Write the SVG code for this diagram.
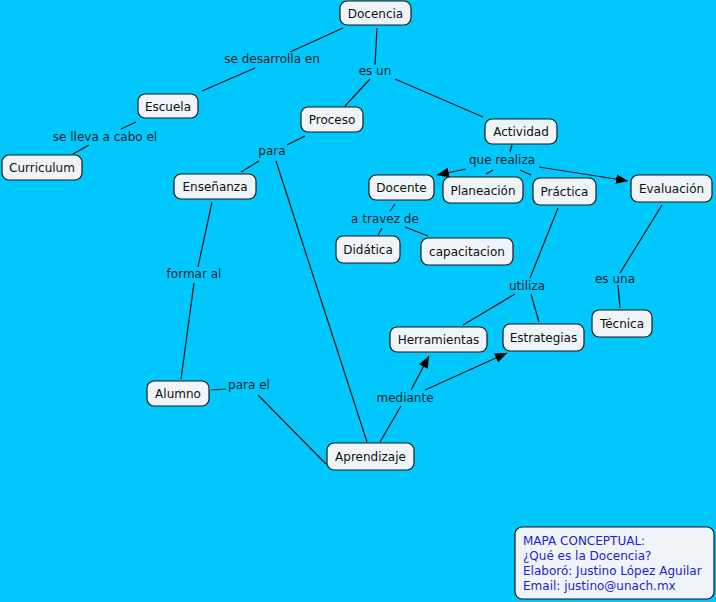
<svg xmlns="http://www.w3.org/2000/svg" width="716" height="602" viewBox="0 0 716 602">
<style>
.n rect{fill:#eef4f7;stroke:#1a1a1a;stroke-width:1.2}
.n text{font-family:"DejaVu Sans",Verdana,sans-serif;font-size:12px;fill:#111;text-anchor:middle}
.l{font-family:"DejaVu Sans",Verdana,sans-serif;font-size:12px;fill:#0d1f2d;text-anchor:middle}
#c line{stroke:#111;stroke-width:1.2}
.info{font-family:"DejaVu Sans",Verdana,sans-serif;font-size:12px;fill:#1e1ed2}
</style>
<defs>
<marker id="a" viewBox="0 0 12 10" refX="12" refY="5" markerWidth="12" markerHeight="10" markerUnits="userSpaceOnUse" orient="auto">
<path d="M0,0 L12,5 L0,10 Z" fill="#000"/>
</marker>
</defs>
<rect width="716" height="602" fill="#00c8fc"/>
<g id="c">
<line x1="343" y1="28" x2="290" y2="52"/>
<line x1="255" y1="68" x2="202" y2="91"/>
<line x1="136" y1="122" x2="121" y2="129"/>
<line x1="89" y1="145" x2="73" y2="154"/>
<line x1="377" y1="28" x2="375" y2="65"/>
<line x1="370" y1="79" x2="345" y2="106"/>
<line x1="395" y1="79" x2="483" y2="117"/>
<line x1="305" y1="136" x2="287" y2="145"/>
<line x1="259" y1="161" x2="241" y2="172"/>
<line x1="276" y1="161" x2="367" y2="442"/>
<line x1="212" y1="202" x2="198" y2="267"/>
<line x1="194" y1="283" x2="181" y2="379"/>
<line x1="211" y1="390" x2="226" y2="389"/>
<line x1="258" y1="395" x2="326" y2="464"/>
<line x1="380" y1="442" x2="401" y2="406"/>
<line x1="411" y1="390" x2="429" y2="356" marker-end="url(#a)"/>
<line x1="425" y1="390" x2="507" y2="353" marker-end="url(#a)"/>
<line x1="512" y1="145" x2="510" y2="152"/>
<line x1="466" y1="169" x2="437" y2="175" marker-end="url(#a)"/>
<line x1="493" y1="170" x2="486" y2="174"/>
<line x1="520" y1="170" x2="531" y2="175"/>
<line x1="539" y1="167" x2="628" y2="181" marker-end="url(#a)"/>
<line x1="395" y1="204" x2="390" y2="211"/>
<line x1="382" y1="228" x2="378" y2="235"/>
<line x1="405" y1="227" x2="428" y2="236"/>
<line x1="558" y1="208" x2="530" y2="278"/>
<line x1="515" y1="294" x2="463" y2="325"/>
<line x1="531" y1="294" x2="539" y2="322"/>
<line x1="662" y1="205" x2="620" y2="273"/>
<line x1="618" y1="285" x2="620" y2="308"/>
</g>
<g id="labels">
<text class="l" x="272" y="63">se desarrolla en</text>
<text class="l" x="105" y="141">se lleva a cabo el</text>
<text class="l" x="375" y="75">es un</text>
<text class="l" x="272" y="155">para</text>
<text class="l" x="502" y="164">que realiza</text>
<text class="l" x="385" y="223">a travez de</text>
<text class="l" x="194" y="278">formar al</text>
<text class="l" x="249" y="389">para el</text>
<text class="l" x="405" y="402">mediante</text>
<text class="l" x="527" y="290">utiliza</text>
<text class="l" x="615" y="283">es una</text>
</g>
<g id="docencia" class="n"><rect x="340" y="1" width="71" height="24" rx="7"/><text x="375.5" y="17.5">Docencia</text></g>
<g id="escuela" class="n"><rect x="138" y="94" width="60" height="24" rx="7"/><text x="168" y="110.5">Escuela</text></g>
<g id="curriculum" class="n"><rect x="2" y="155" width="80" height="25" rx="7"/><text x="42" y="172">Curriculum</text></g>
<g id="proceso" class="n"><rect x="301" y="107" width="62" height="25" rx="7"/><text x="332" y="124">Proceso</text></g>
<g id="ensenanza" class="n"><rect x="174" y="174" width="82" height="25" rx="7"/><text x="215" y="191">Enseñanza</text></g>
<g id="actividad" class="n"><rect x="485" y="119" width="72" height="25" rx="7"/><text x="521" y="136">Actividad</text></g>
<g id="docente" class="n"><rect x="369" y="175" width="65" height="25" rx="7"/><text x="401.5" y="192">Docente</text></g>
<g id="planeacion" class="n"><rect x="443" y="177" width="80" height="26" rx="7"/><text x="483" y="194.5">Planeación</text></g>
<g id="practica" class="n"><rect x="533" y="178" width="63" height="27" rx="7"/><text x="564.5" y="196">Práctica</text></g>
<g id="evaluacion" class="n"><rect x="631" y="175" width="81" height="27" rx="7"/><text x="671.5" y="193">Evaluación</text></g>
<g id="didatica" class="n"><rect x="336" y="236" width="64" height="27" rx="7"/><text x="368" y="254">Didática</text></g>
<g id="capacitacion" class="n"><rect x="421" y="238" width="92" height="27" rx="7"/><text x="467" y="256">capacitacion</text></g>
<g id="tecnica" class="n"><rect x="592" y="310" width="60" height="27" rx="7"/><text x="622" y="328">Técnica</text></g>
<g id="estrategias" class="n"><rect x="503" y="324" width="81" height="27" rx="7"/><text x="543.5" y="342">Estrategias</text></g>
<g id="herramientas" class="n"><rect x="390" y="327" width="97" height="25" rx="7"/><text x="438.5" y="344">Herramientas</text></g>
<g id="alumno" class="n"><rect x="147" y="381" width="62" height="25" rx="7"/><text x="178" y="398">Alumno</text></g>
<g id="aprendizaje" class="n"><rect x="327" y="443" width="87" height="27" rx="7"/><text x="370.5" y="461">Aprendizaje</text></g>
<g id="info" class="n"><rect x="515" y="527" width="199" height="72" rx="7"/>
<text class="info" x="523" y="545" style="text-anchor:start;fill:#1e1ed2">MAPA CONCEPTUAL:</text>
<text class="info" x="523" y="560" style="text-anchor:start;fill:#1e1ed2">¿Qué es la Docencia?</text>
<text class="info" x="523" y="575" style="text-anchor:start;fill:#1e1ed2">Elaboró: Justino López Aguilar</text>
<text class="info" x="523" y="590" style="text-anchor:start;fill:#1e1ed2">Email: justino@unach.mx</text>
</g>
</svg>
